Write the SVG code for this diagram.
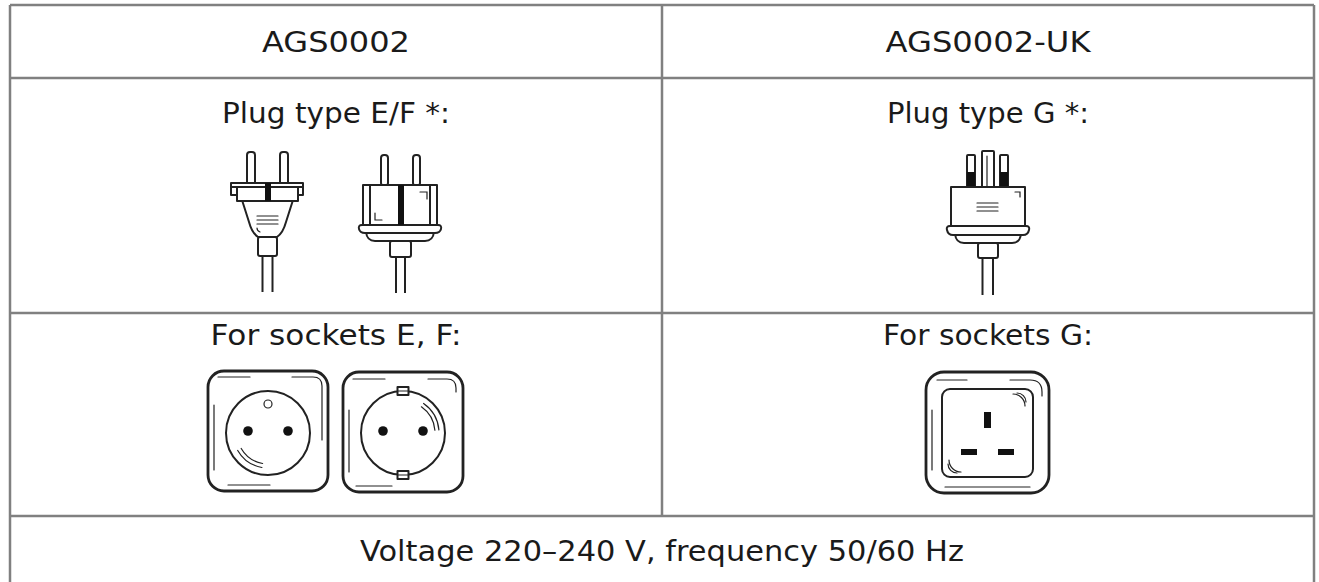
<svg xmlns="http://www.w3.org/2000/svg" width="1319" height="582" viewBox="0 0 1319 582">
<style>
.b{stroke:#808080;stroke-width:2.5;fill:none}
.t{font-family:"DejaVu Sans",sans-serif;font-size:29px;fill:#1a1a1a;text-anchor:middle}
.k{stroke:#222;stroke-width:2;fill:#fff;stroke-linejoin:round}
.f{stroke:#222;stroke-width:2.8;fill:#fff}
.th{stroke:#222;stroke-width:1.2;fill:none;stroke-linecap:round}
.d{fill:#111}
</style>
<rect width="1319" height="582" fill="#fff"/>
<g id="table" class="b">
<line x1="10" y1="5" x2="1314" y2="5"/>
<line x1="10" y1="5" x2="10" y2="582"/>
<line x1="1314" y1="5" x2="1314" y2="582"/>
<line x1="662" y1="5" x2="662" y2="516"/>
<line x1="10" y1="78" x2="1314" y2="78"/>
<line x1="10" y1="313" x2="1314" y2="313"/>
<line x1="10" y1="516" x2="1314" y2="516"/>
</g>
<g id="texts" class="t">
<text x="336" y="52" textLength="148" lengthAdjust="spacingAndGlyphs">AGS0002</text>
<text x="988" y="52" textLength="205" lengthAdjust="spacingAndGlyphs">AGS0002-UK</text>
<text x="336" y="123" textLength="228" lengthAdjust="spacingAndGlyphs">Plug type E/F *:</text>
<text x="988" y="123" textLength="202" lengthAdjust="spacingAndGlyphs">Plug type G *:</text>
<text x="336" y="345" textLength="251" lengthAdjust="spacingAndGlyphs">For sockets E, F:</text>
<text x="988" y="345" textLength="210" lengthAdjust="spacingAndGlyphs">For sockets G:</text>
<text x="662" y="561" textLength="604" lengthAdjust="spacingAndGlyphs">Voltage 220–240 V, frequency 50/60 Hz</text>
</g>
<g id="plug-e">
<rect class="k" x="247" y="152" width="8" height="33" rx="3"/>
<rect class="k" x="280" y="152" width="8" height="33" rx="3"/>
<path class="k" d="M242,200 L249,222 Q252,233 258,237 L277,237 Q283,233 286,222 L293,200 Z"/>
<rect class="k" x="231" y="183" width="72" height="12"/>
<line class="k" x1="231" y1="187" x2="303" y2="187"/>
<rect class="k" x="237" y="187" width="61" height="14"/>
<rect class="d" x="265" y="183" width="6" height="18"/>
<path class="th" d="M257,216 H278 M257,220 H278 M257,224 H278 M257,228 q0,3 3,4"/>
<rect class="k" x="258" y="237" width="19" height="19" rx="2"/>
<path class="k" d="M262.5,256 V292 M272.5,256 V292"/>
</g>
<g id="plug-f">
<rect class="k" x="381" y="155" width="7" height="31" rx="3"/>
<rect class="k" x="413" y="155" width="7" height="31" rx="3"/>
<path class="k" d="M366,232 Q367,241 375,241 L425,241 Q433,241 434,232 Z"/>
<path class="k" d="M362,225 H438 Q442,225 441,229 Q440,233 435,233 H365 Q360,233 359,229 Q358,225 362,225 Z"/>
<rect class="k" x="363" y="185" width="74" height="40"/>
<path class="k" d="M370,185 V225 M430,185 V225"/>
<rect class="d" x="398" y="185" width="6" height="40"/>
<path class="th" d="M420,192 H427 V199 M375,213 V220 H382"/>
<rect class="k" x="390" y="241" width="21" height="16" rx="2"/>
<path class="k" d="M396,257 V293 M405,257 V293"/>
</g>
<g id="plug-g">
<rect class="k" x="967" y="155" width="8" height="32" rx="1"/>
<rect class="d" x="967" y="172" width="8" height="15"/>
<rect class="k" x="982" y="151" width="12" height="36" rx="1"/>
<path class="th" d="M987,156 V187"/>
<rect class="k" x="1000" y="155" width="8" height="32" rx="1"/>
<rect class="d" x="1000" y="172" width="8" height="15"/>
<path class="k" d="M955,234 Q956,243 964,243 H1012 Q1020,243 1021,234 Z"/>
<path class="k" d="M950,226 H1026 Q1030,226 1029,230 Q1028,235 1023,235 H953 Q948,235 947,230 Q946,226 950,226 Z"/>
<rect class="k" x="951" y="187" width="74" height="39"/>
<path class="th" d="M977,203 H998 M977,207 H998 M977,211 H998 M1015,192 H1020 V197"/>
<rect class="k" x="978" y="243" width="20" height="15" rx="2"/>
<path class="k" d="M982.5,258 V295 M993,258 V295"/>
</g>
<g id="socket-e">
<rect class="f" x="208" y="371" width="120" height="120" rx="16"/>
<path class="th" d="M218,377 H250 M292,377 H313 Q322,377 322,386 V440 M214,405 V470 M228,485 H270"/>
<circle class="k" cx="268" cy="433" r="42"/>
<circle class="th" cx="268" cy="404" r="4"/>
<circle class="d" cx="248" cy="431" r="4.8"/>
<circle class="d" cx="288" cy="431" r="4.8"/>
<path class="th" d="M261.9,467.5 A35,35 0 0 1 237.7,450.5 M262.6,463.5 A31,31 0 0 1 241.2,448.5"/>
</g>
<g id="socket-f">
<rect class="f" x="343" y="372" width="120" height="120" rx="16"/>
<path class="th" d="M353,379 H385 M428,379 H447 Q456,379 456,388 V392 M349,410 V472 M356,486 H392"/>
<circle class="k" cx="403" cy="433" r="42"/>
<rect class="k" x="397.5" y="387" width="11" height="8" stroke-width="1.5"/>
<rect class="k" x="397.5" y="471" width="11" height="8" stroke-width="1.5"/>
<path class="th" d="M397.5,391 H408.5 M397.5,475 H408.5"/>
<circle class="d" cx="383" cy="431" r="4.8"/>
<circle class="d" cx="423" cy="431" r="4.8"/>
<path class="th" d="M423.6,403.5 A36,36 0 0 1 438.9,429.9 M421.4,406.8 A32,32 0 0 1 434.9,430.2"/>
</g>
<g id="socket-g">
<rect class="f" x="926" y="372" width="123" height="121" rx="18"/>
<path class="th" d="M937,380 H967 M1010,380 H1030 Q1042,380 1042,392 V396 M932,410 V470 M945,487 H1030"/>
<rect class="k" x="942" y="389" width="91" height="88" rx="8"/>
<rect class="d" x="984" y="412" width="7" height="16"/>
<rect class="d" x="961" y="449" width="16" height="6"/>
<rect class="d" x="998" y="449" width="16" height="6"/>
<path class="th" d="M1013,394 A12,12 0 0 1 1025,406 M1017,393 A9,9 0 0 1 1026,402 M949,460 A12,12 0 0 0 961,472 M948,464 A9,9 0 0 0 957,473"/>
</g>
</svg>
